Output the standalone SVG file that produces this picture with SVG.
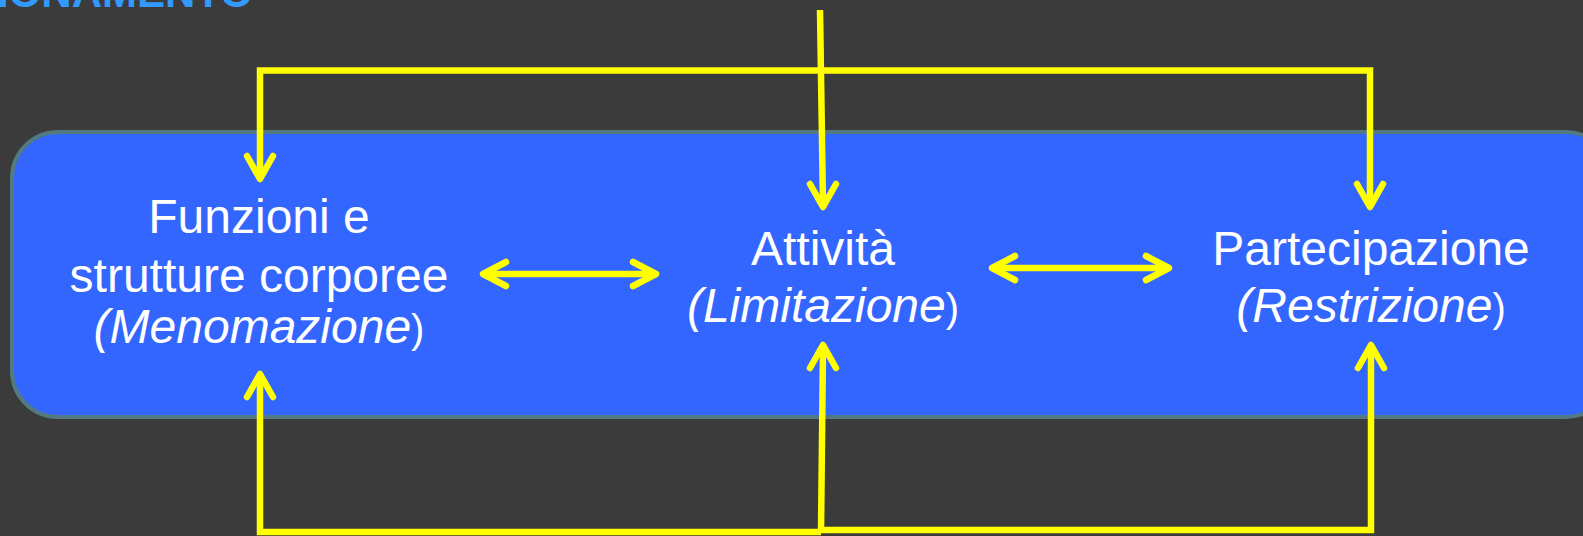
<svg xmlns="http://www.w3.org/2000/svg" width="1583" height="536" viewBox="0 0 1583 536">
<defs>
<style>
.bg{fill:#3b3b3b}
.box{fill:#3366ff;stroke:#527a80;stroke-width:4}
.t{font-family:"Liberation Sans",Arial,sans-serif;font-size:48px;fill:#ffffff;text-anchor:middle}
.i{font-style:italic}
.p{font-style:normal;font-size:40px}
.title{font-family:"Liberation Sans",Arial,sans-serif;font-size:42px;font-weight:bold;fill:#3399ff}
.c{fill:none;stroke:#ffff00;stroke-width:6.5;stroke-linecap:round;stroke-linejoin:round}
.w{fill:none;stroke:#ffff00;stroke-width:6.5;stroke-linecap:butt;stroke-linejoin:miter}
</style>
</defs>
<rect class="bg" x="0" y="0" width="1583" height="536"/>
<text class="title" x="-3" y="7">IONAMENTO</text>
<g id="panel">
<rect class="box" x="12" y="132" width="1600" height="285" rx="46" ry="46"/>
</g>
<g id="node-funzioni">
<text class="t" x="259" y="233">Funzioni e</text>
<text class="t" x="259" y="292">strutture corporee</text>
<text class="t i" x="259" y="343">(Menomazione<tspan class="p">)</tspan></text>
</g>
<g id="node-attivita">
<text class="t" x="823" y="265">Attività</text>
<text class="t i" x="823" y="322">(Limitazione<tspan class="p">)</tspan></text>
</g>
<g id="node-partecipazione">
<text class="t" x="1371" y="265">Partecipazione</text>
<text class="t i" x="1371" y="322">(Restrizione<tspan class="p">)</tspan></text>
</g>
<g id="connectors">
<path class="w" d="M820,10 L823,205"/>
<path class="c" d="M810,184 L823,207 L836,184"/>
<path class="w" d="M260,176 L260,70.5 L1370,70.5 L1370,204"/>
<path class="c" d="M247,156 L260,179 L273,156"/>
<path class="c" d="M1357,184 L1370,207 L1383,184"/>
<path class="w" d="M260,377 L260,532 L821,532"/>
<path class="c" d="M247,397 L260,374 L273,397"/>
<path class="w" d="M821,532 L823,349"/>
<path class="c" d="M810,368 L823,345 L836,368"/>
<path class="w" d="M821,530 L1371,530 L1371,348"/>
<path class="c" d="M1358,368 L1371,345 L1384,368"/>
<path class="c" d="M484,274 L655,274"/>
<path class="c" d="M506,262 L483,274 L506,286"/>
<path class="c" d="M633,262 L656,274 L633,286"/>
<path class="c" d="M993,268 L1168,268"/>
<path class="c" d="M1015,256 L992,268 L1015,280"/>
<path class="c" d="M1146,256 L1169,268 L1146,280"/>
</g>
</svg>
